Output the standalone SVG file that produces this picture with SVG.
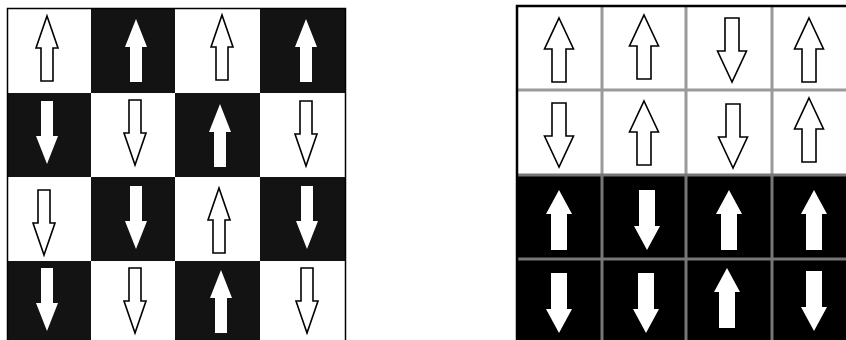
<svg xmlns="http://www.w3.org/2000/svg" xmlns:xlink="http://www.w3.org/1999/xlink" width="846" height="340" viewBox="0 0 846 340">
  <style>
    .w { fill: #ffffff; }
    .k { fill: #131313; }
    .kk { fill: #000000; }
    .hollow { fill: #ffffff; stroke: #000000; stroke-width: 1.6; stroke-linejoin: miter; }
    .solid { fill: #ffffff; stroke: none; }
    .grid { stroke: #9a9a9a; stroke-width: 3; fill: none; }
    .gridk { stroke: #777777; stroke-width: 3; fill: none; }
  </style>
  <defs>
    <!-- arrow shapes, tip at origin, pointing up -->
    <path id="hl" class="hollow" d="M0,0 L11,32 L6,32 L6,65 L-6,65 L-6,32 L-11,32 Z"/>
    <path id="sl" class="solid" d="M0,0 L11,28 L6,28 L6,63 L-6,63 L-6,28 L-11,28 Z"/>
    <path id="hr" class="hollow" d="M0,0 L14.5,31 L7,31 L7,64 L-7,64 L-7,31 L-14.5,31 Z"/>
    <path id="sr" class="solid" d="M0,0 L13,24 L8,24 L8,60 L-8,60 L-8,24 L-13,24 Z"/>
  </defs>

  <rect width="846" height="340" fill="#ffffff"/>

  <!-- left board: checkerboard of spins -->
  <g id="board-left">
    <g id="L-cells">
      <rect class="w" x="8" y="8" width="83" height="85"/>
      <rect class="k" x="91" y="8" width="84" height="85"/>
      <rect class="w" x="175" y="8" width="85" height="85"/>
      <rect class="k" x="260" y="8" width="85" height="85"/>

      <rect class="k" x="8" y="93" width="83" height="84"/>
      <rect class="w" x="91" y="93" width="84" height="84"/>
      <rect class="k" x="175" y="93" width="85" height="84"/>
      <rect class="w" x="260" y="93" width="85" height="84"/>

      <rect class="w" x="8" y="177" width="83" height="84"/>
      <rect class="k" x="91" y="177" width="84" height="84"/>
      <rect class="w" x="175" y="177" width="85" height="84"/>
      <rect class="k" x="260" y="177" width="85" height="84"/>

      <rect class="k" x="8" y="261" width="83" height="79"/>
      <rect class="w" x="91" y="261" width="84" height="79"/>
      <rect class="k" x="175" y="261" width="85" height="79"/>
      <rect class="w" x="260" y="261" width="85" height="79"/>
    </g>
    <path d="M7.5,341 V8.5 H345.5 V341" fill="none" stroke="#000" stroke-width="1.5"/>
    <g id="L-arrows">
      <!-- row 1 -->
      <use href="#hl" transform="translate(47,16)"/>
      <use href="#sl" transform="translate(136,19)"/>
      <use href="#hl" transform="translate(222,15)"/>
      <use href="#sl" transform="translate(306,19)"/>
      <!-- row 2 -->
      <use href="#sl" transform="translate(47,164) rotate(180)"/>
      <use href="#hl" transform="translate(135,165) rotate(180)"/>
      <use href="#sl" transform="translate(220,104)"/>
      <use href="#hl" transform="translate(306,166) rotate(180)"/>
      <!-- row 3 -->
      <use href="#hl" transform="translate(44,255) rotate(180)"/>
      <use href="#sl" transform="translate(136,249) rotate(180)"/>
      <use href="#hl" transform="translate(219,188)"/>
      <use href="#sl" transform="translate(307,249) rotate(180)"/>
      <!-- row 4 -->
      <use href="#sl" transform="translate(47,331) rotate(180)"/>
      <use href="#hl" transform="translate(135,333) rotate(180)"/>
      <use href="#sl" transform="translate(221,270)"/>
      <use href="#hl" transform="translate(307,333) rotate(180)"/>
    </g>
  </g>

  <!-- right board: two aligned halves -->
  <g id="board-right">
    <rect class="w" x="517" y="6" width="329" height="169"/>
    <rect class="kk" x="517" y="175" width="329" height="165"/>
    <g id="R-lines">
      <path class="grid" d="M602,6 V175 M686,6 V175 M772,6 V175 M517,90 H846"/>
      <path class="gridk" d="M602,175 V340 M686,175 V340 M772,175 V340 M517,175 H846 M517,259 H846"/>
      <path d="M517,341 V6 H846" fill="none" stroke="#000" stroke-width="2.5"/>
    </g>
    <g id="R-arrows">
      <!-- row 1 -->
      <use href="#hr" transform="translate(559,18)"/>
      <use href="#hr" transform="translate(644,15)"/>
      <use href="#hr" transform="translate(732,82) rotate(180)"/>
      <use href="#hr" transform="translate(809,18)"/>
      <!-- row 2 -->
      <use href="#hr" transform="translate(559,167) rotate(180)"/>
      <use href="#hr" transform="translate(644,101)"/>
      <use href="#hr" transform="translate(733,168) rotate(180)"/>
      <use href="#hr" transform="translate(809,98)"/>
      <!-- row 3 -->
      <use href="#sr" transform="translate(559,190)"/>
      <use href="#sr" transform="translate(647,250) rotate(180)"/>
      <use href="#sr" transform="translate(729,190)"/>
      <use href="#sr" transform="translate(814,190)"/>
      <!-- row 4 -->
      <use href="#sr" transform="translate(559,333) rotate(180)"/>
      <use href="#sr" transform="translate(646,333) rotate(180)"/>
      <use href="#sr" transform="translate(727,268)"/>
      <use href="#sr" transform="translate(814,331) rotate(180)"/>
    </g>
  </g>
</svg>
